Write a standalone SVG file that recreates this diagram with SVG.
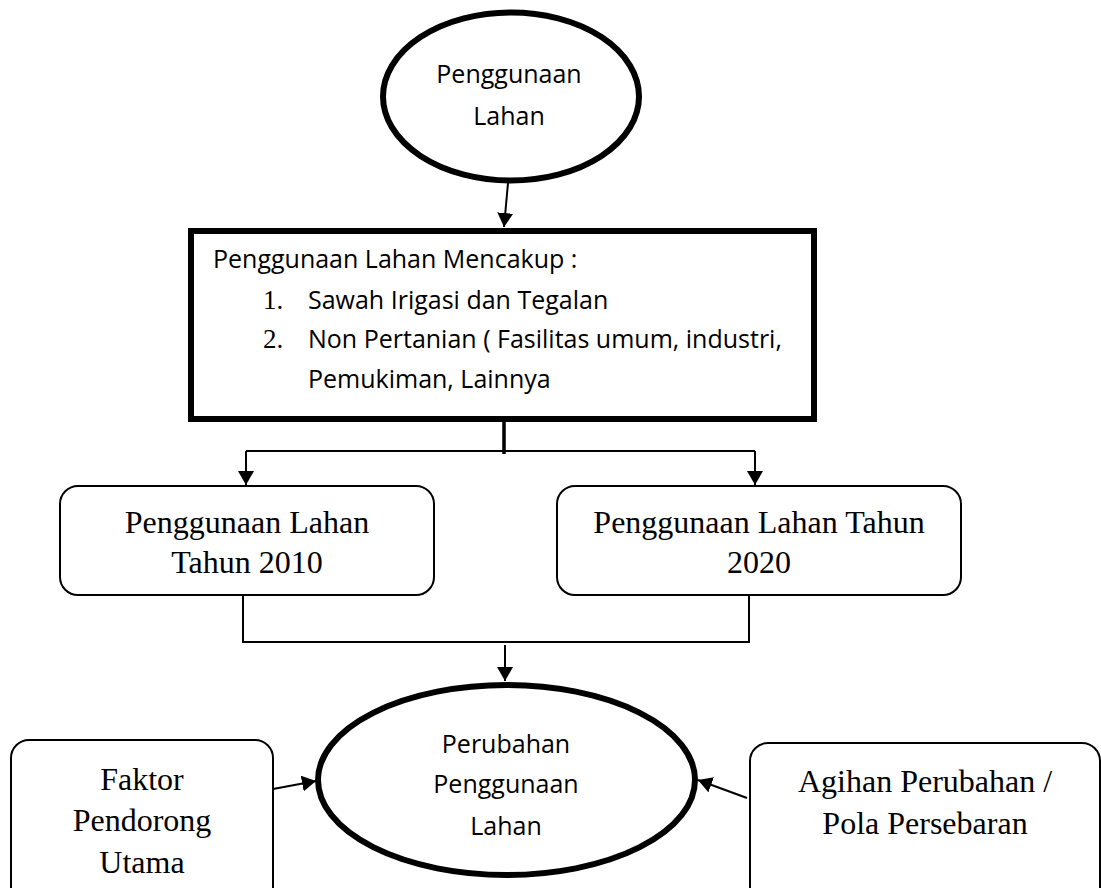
<svg xmlns="http://www.w3.org/2000/svg" width="1101" height="888" viewBox="0 0 1101 888">
<style>
.sans{font-family:"Open Sans","Noto Sans",sans-serif;fill:#000}
.serif{font-family:"Liberation Serif","Times New Roman",serif;fill:#000}
.big{font-size:25px;text-anchor:middle}
.box{font-size:32px;text-anchor:middle}
.item{font-size:25px}
.num{font-size:27px}
.rbox{fill:#fff;stroke:#000;stroke-width:2}
.thick{fill:#fff;stroke:#000;stroke-width:6}
.line{fill:none;stroke:#000;stroke-width:2}
</style>
<defs>
<marker id="ah" markerWidth="16" markerHeight="16" refX="14" refY="8" orient="auto" markerUnits="userSpaceOnUse">
<path d="M0,0 L14,8 L0,16 Z" fill="#000"/>
</marker>
</defs>
<rect width="1101" height="888" fill="#fff"/>
<g id="connectors">
<line class="line" x1="508" y1="183" x2="504" y2="227" marker-end="url(#ah)"/>
<line x1="504" y1="420" x2="504" y2="454" stroke="#000" stroke-width="3.5"/>
<path class="line" d="M246,451 L755,451"/>
<line class="line" x1="246" y1="451" x2="246" y2="485" marker-end="url(#ah)"/>
<line class="line" x1="755" y1="451" x2="755" y2="485" marker-end="url(#ah)"/>
<path class="line" d="M243,596 L243,642 L749,642 L749,596"/>
<line class="line" x1="505" y1="645" x2="505" y2="681" marker-end="url(#ah)"/>
<line class="line" x1="273" y1="789" x2="316" y2="781" marker-end="url(#ah)"/>
<line class="line" x1="747" y1="798" x2="698" y2="780" marker-end="url(#ah)"/>
</g>
<g id="node-penggunaan-lahan">
<ellipse class="thick" cx="511" cy="96.5" rx="128" ry="84"/>
<text class="sans big" x="509" y="83">Penggunaan</text>
<text class="sans big" x="509" y="125">Lahan</text>
</g>
<g id="node-mencakup">
<rect class="thick" x="191" y="231" width="623" height="188"/>
<text class="sans item" x="213" y="268">Penggunaan Lahan Mencakup :</text>
<text class="serif num" x="263" y="309">1.</text>
<text class="sans item" x="308" y="309">Sawah Irigasi dan Tegalan</text>
<text class="serif num" x="263" y="348">2.</text>
<text class="sans item" x="308" y="348">Non Pertanian ( Fasilitas umum, industri,</text>
<text class="sans item" x="308" y="388">Pemukiman, Lainnya</text>
</g>
<g id="node-2010">
<rect class="rbox" x="60" y="486" width="374" height="109" rx="18"/>
<text class="serif box" x="247" y="533">Penggunaan Lahan</text>
<text class="serif box" x="247" y="573">Tahun 2010</text>
</g>
<g id="node-2020">
<rect class="rbox" x="557" y="486" width="404" height="109" rx="18"/>
<text class="serif box" x="759" y="533">Penggunaan Lahan Tahun</text>
<text class="serif box" x="759" y="573">2020</text>
</g>
<g id="node-perubahan">
<ellipse class="thick" cx="506.5" cy="780" rx="188.5" ry="95"/>
<text class="sans big" x="506" y="753">Perubahan</text>
<text class="sans big" x="506" y="793">Penggunaan</text>
<text class="sans big" x="506" y="835">Lahan</text>
</g>
<g id="node-faktor">
<rect class="rbox" x="11" y="740" width="262" height="170" rx="18"/>
<text class="serif box" x="142" y="790">Faktor</text>
<text class="serif box" x="142" y="831">Pendorong</text>
<text class="serif box" x="142" y="873">Utama</text>
</g>
<g id="node-agihan">
<rect class="rbox" x="750" y="743" width="350" height="170" rx="18"/>
<text class="serif box" x="925" y="792">Agihan Perubahan /</text>
<text class="serif box" x="925" y="834">Pola Persebaran</text>
</g>
</svg>
